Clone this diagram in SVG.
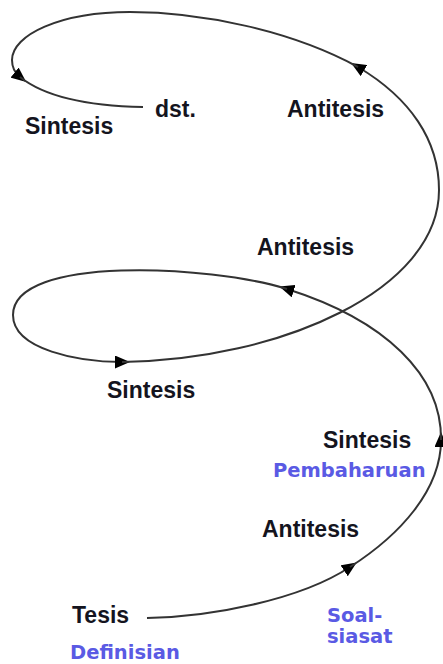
<svg xmlns="http://www.w3.org/2000/svg" width="443" height="664" viewBox="0 0 443 664">
  <style>
    .lbl { font-family: "Liberation Sans", Arial, sans-serif; font-weight: bold; font-size: 23px; fill: #14141e; }
    .sub { font-family: "DejaVu Sans", Verdana, sans-serif; font-weight: bold; font-size: 19.5px; fill: #5a5ae4; }
    .ln { fill: none; stroke: #333; stroke-width: 2; }
    .arr { marker-end: url(#ah); }
  </style>
  <defs>
    <marker id="ah" markerUnits="userSpaceOnUse" markerWidth="15" markerHeight="13" refX="7" refY="6.5" orient="auto">
      <path d="M0,0 L15,6.5 L0,13 z" fill="#000"/>
    </marker>
  </defs>
  <rect width="443" height="664" fill="#fff"/>
  <g id="connectors">
    <path class="ln arr" d="M147,618 C210,617 300,600 350,567"/>
    <path class="ln arr" d="M350,567 C400,535 441,490 441,440"/>
    <path class="ln arr" d="M441,440 C442,375 385,320 287,289"/>
    <path class="ln" d="M287,289 C210,265 13,255 13,315"/>
    <path class="ln arr" d="M13,315 C13,350 80,362 122,362"/>
    <path class="ln" d="M122,362 C280,360 439,290 439,190"/>
    <path class="ln arr" d="M439,190 C439,140 410,98 358,67"/>
    <path class="ln" d="M358,67 C290,30 200,12 130,12 C60,12 12,35 12,60"/>
    <path class="ln arr" d="M12,60 C12,68 15,73 20,77"/>
    <path class="ln" d="M20,77 C45,97 90,106 143,107"/>
  </g>
  <g id="dst"><text class="lbl" x="155" y="117">dst.</text></g>
  <g id="antitesis-top"><text class="lbl" x="287" y="117">Antitesis</text></g>
  <g id="sintesis-top"><text class="lbl" x="25" y="134">Sintesis</text></g>
  <g id="antitesis-mid"><text class="lbl" x="257" y="255">Antitesis</text></g>
  <g id="sintesis-mid"><text class="lbl" x="107" y="398">Sintesis</text></g>
  <g id="sintesis-bottom">
    <text class="lbl" x="323" y="448">Sintesis</text>
    <text class="sub" x="273" y="477">Pembaharuan</text>
  </g>
  <g id="antitesis-bottom"><text class="lbl" x="262" y="537">Antitesis</text></g>
  <g id="tesis">
    <text class="lbl" x="72" y="623">Tesis</text>
    <text class="sub" x="70" y="659">Definisian</text>
  </g>
  <g id="soal-siasat">
    <text class="sub" x="327" y="622">Soal-</text>
    <text class="sub" x="327" y="643">siasat</text>
  </g>
</svg>
